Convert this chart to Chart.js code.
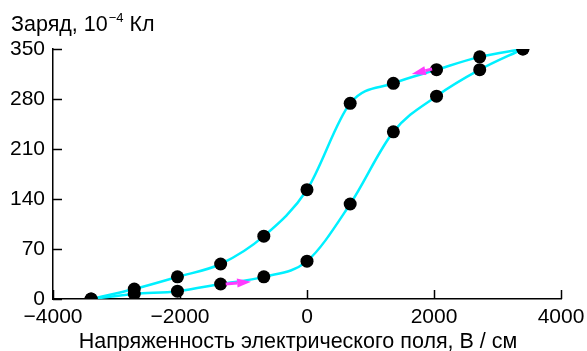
<!DOCTYPE html>
<html>
<head>
<meta charset="utf-8">
<script src="https://cdn.jsdelivr.net/npm/chart.js@4"></script>
<style>
  html, body { margin: 0; padding: 0; background: #fff; }
  #wrap { width: 587px; height: 351px; }
</style>
</head>
<body>
<div id="wrap"><canvas id="chart"></canvas></div>
<script>
// hysteresis loop: field (V/cm) vs charge (10^-4 C)
const fieldValues = [-3400, -2720, -2040, -1360, -680, 0, 680, 1360, 2040, 2720, 3400];
const chargeRising = [0, 7, 11, 21, 31, 53, 133, 234, 284, 321, 350];
const chargeFalling = [0, 14, 31, 49, 88, 153, 274, 302, 321, 339, 350];
const xTicks = [-4000, -2000, 0, 2000, 4000];
const yTicks = [0, 70, 140, 210, 280, 350];
// direction arrows on each branch: [xFrom, yFrom, xTo, yTo]
const arrowRising = [-1280, 21, -880, 24];
const arrowFalling = [1970, 322, 1650, 315];

const FONT = '"Liberation Sans", Arial, sans-serif';
const CYAN = '#00f0ff';
const MAGENTA = '#ff3cff';

function toPoints(ys) {
    return fieldValues.map((x, i) => ({ x: x, y: ys[i] }));
}

function fmtMinus(v) {
    return v < 0 ? '\u2212' + Math.abs(v) : String(v);
}

const extrasPlugin = {
    id: 'extras',
    afterDatasetsDraw(chart) {
        const ctx = chart.ctx;
        const xs = chart.scales.x, ys = chart.scales.y;
        const area = chart.chartArea;

        // inward tick marks
        ctx.save();
        ctx.strokeStyle = '#000';
        ctx.lineWidth = 1.5;
        xTicks.forEach(v => {
            const px = Math.round(xs.getPixelForValue(v)) + 0.5;
            ctx.beginPath();
            ctx.moveTo(px, area.bottom);
            ctx.lineTo(px, area.bottom - 9);
            ctx.stroke();
        });
        yTicks.forEach(v => {
            const py = Math.round(ys.getPixelForValue(v)) + 0.5;
            ctx.beginPath();
            ctx.moveTo(area.left, py);
            ctx.lineTo(area.left + 9, py);
            ctx.stroke();
        });
        ctx.restore();

        // arrows
        [arrowRising, arrowFalling].forEach(a => {
            const x1 = xs.getPixelForValue(a[0]), y1 = ys.getPixelForValue(a[1]);
            const x2 = xs.getPixelForValue(a[2]), y2 = ys.getPixelForValue(a[3]);
            const ang = Math.atan2(y2 - y1, x2 - x1);
            const headLen = 14, headW = 4.5;
            const bx = x2 - headLen * Math.cos(ang), by = y2 - headLen * Math.sin(ang);
            ctx.save();
            ctx.strokeStyle = MAGENTA;
            ctx.fillStyle = MAGENTA;
            ctx.lineWidth = 3;
            ctx.beginPath();
            ctx.moveTo(x1, y1);
            ctx.lineTo(bx, by);
            ctx.stroke();
            ctx.beginPath();
            ctx.moveTo(x2, y2);
            ctx.lineTo(bx + headW * Math.sin(ang), by - headW * Math.cos(ang));
            ctx.lineTo(bx - headW * Math.sin(ang), by + headW * Math.cos(ang));
            ctx.closePath();
            ctx.fill();
            ctx.restore();
        });
    },
    afterDraw(chart) {
        const ctx = chart.ctx;
        ctx.save();
        ctx.fillStyle = '#000';
        ctx.textBaseline = 'alphabetic';
        // y axis title with superscript
        ctx.font = '21.5px ' + FONT;
        ctx.textAlign = 'left';
        let x = 11;
        const base = 31;
        const part1 = 'Заряд, 10';
        ctx.fillText(part1, x, base);
        x += ctx.measureText(part1).width + 1;
        ctx.font = '13px ' + FONT;
        ctx.fillText('\u22124', x, base - 9);
        x += ctx.measureText('\u22124').width;
        ctx.font = '21.5px ' + FONT;
        ctx.fillText(' Кл', x, base);
        // x axis title
        ctx.textAlign = 'center';
        ctx.fillText('Напряженность электрического поля, В / см', 298, 348);
        ctx.restore();
    }
};

new Chart(document.getElementById('chart'), {
    type: 'scatter',
    data: {
        datasets: [
            { data: toPoints(chargeRising), showLine: false, pointRadius: 6.5, pointBackgroundColor: '#000', pointBorderWidth: 0 },
            { data: toPoints(chargeFalling), showLine: false, pointRadius: 6.5, pointBackgroundColor: '#000', pointBorderWidth: 0 },
            { data: toPoints(chargeRising), showLine: true, borderColor: CYAN, borderWidth: 2.5, pointRadius: 0, cubicInterpolationMode: 'monotone' },
            { data: toPoints(chargeFalling), showLine: true, borderColor: CYAN, borderWidth: 2.5, pointRadius: 0, cubicInterpolationMode: 'monotone' }
        ]
    },
    options: {
        responsive: true,
        maintainAspectRatio: false,
        animation: false,
        layout: { padding: { top: 49, right: 26, left: 0, bottom: 0 } },
        plugins: { legend: { display: false }, tooltip: { enabled: false } },
        scales: {
            x: {
                type: 'linear',
                min: -4000,
                max: 4000,
                afterBuildTicks: s => { s.ticks = xTicks.map(v => ({ value: v })); },
                afterFit: s => { s.height = 52; s.paddingLeft = 0; s.paddingRight = 0; },
                grid: { display: false, drawTicks: false },
                border: { display: true, color: '#000', width: 1.5 },
                ticks: { color: '#000', font: { family: FONT, size: 21 }, padding: 6, maxRotation: 0, callback: v => fmtMinus(v) }
            },
            y: {
                type: 'linear',
                min: 0,
                max: 350,
                afterBuildTicks: s => { s.ticks = yTicks.map(v => ({ value: v })); },
                afterFit: s => { s.width = 53; s.paddingTop = 0; s.paddingBottom = 0; },
                grid: { display: false, drawTicks: false },
                border: { display: true, color: '#000', width: 1.5 },
                ticks: { color: '#000', font: { family: FONT, size: 21 }, padding: 8, callback: v => String(v) }
            }
        }
    },
    plugins: [extrasPlugin]
});
</script>
</body>
</html>
